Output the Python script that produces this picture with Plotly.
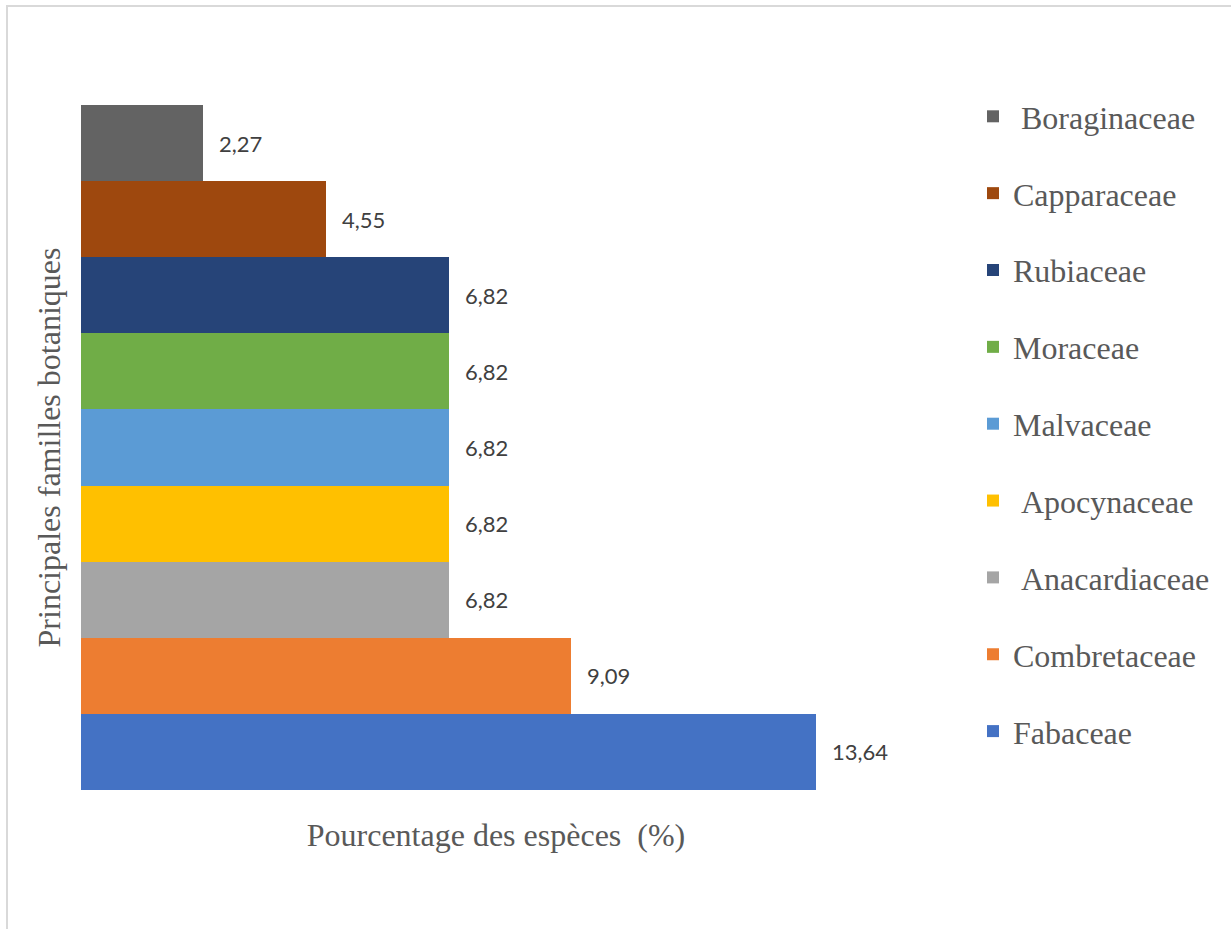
import plotly.graph_objects as go

families = ["Fabaceae", "Combretaceae", "Anacardiaceae", "Apocynaceae", "Malvaceae",
            "Moraceae", "Rubiaceae", "Capparaceae", "Boraginaceae"]
legend_names = ["Fabaceae", "Combretaceae", "\u00a0Anacardiaceae", "\u00a0Apocynaceae", "Malvaceae",
                "Moraceae", "Rubiaceae", "Capparaceae", "\u00a0Boraginaceae"]
values = [13.64, 9.09, 6.82, 6.82, 6.82, 6.82, 6.82, 4.55, 2.27]
labels = ["13,64", "9,09", "6,82", "6,82", "6,82", "6,82", "6,82", "4,55", "2,27"]
colors = ["#4472C4", "#ED7D31", "#A5A5A5", "#FFC000", "#5B9BD5",
          "#70AD47", "#264478", "#9E480E", "#636363"]

W, H = 1231, 929
L, R_px = 81, 911
T, B_px = 105, 790
pw, ph = R_px - L, B_px - T

fig = go.Figure()
# add traces top-down so the legend lists Boraginaceae first
for fam, name, v, c in reversed(list(zip(families, legend_names, values, colors))):
    fig.add_trace(go.Bar(x=[v], y=[fam], orientation="h", name=name,
                         marker=dict(color=c, line=dict(width=0)),
                         legendgroup=fam, hoverinfo="skip"))

annotations = []
for fam, v, lab in zip(families, values, labels):
    annotations.append(dict(x=v, y=fam, xref="x", yref="y", text=lab, showarrow=False,
                            xanchor="left", yanchor="middle", xshift=14,
                            font=dict(family="Lato", size=22, color="#404040")))

serif = "Liberation Serif"
fig.update_layout(
    width=W, height=H,
    margin=dict(l=L, r=W - R_px, t=T, b=H - B_px, pad=0),
    paper_bgcolor="white", plot_bgcolor="white",
    barmode="overlay", bargap=0,
    xaxis=dict(range=[0, 15.4], showgrid=False, zeroline=False, showline=False,
               showticklabels=False, ticks="",
               title=dict(text="Pourcentage des espèces  (%)", standoff=33,
                          font=dict(family=serif, size=32, color="#595959"))),
    yaxis=dict(categoryorder="array", categoryarray=families,
               showgrid=False, zeroline=False, showline=False,
               showticklabels=False, ticks="",
               title=dict(text="Principales familles botaniques", standoff=9,
                          font=dict(family=serif, size=32, color="#595959"))),
    legend=dict(x=(973 - L) / pw, xanchor="left", y=(B_px - 89) / ph, yanchor="top",
                traceorder="grouped", tracegroupgap=32.25, maxheight=900,
                font=dict(family=serif, size=32, color="#595959"),
                bgcolor="rgba(0,0,0,0)", itemclick=False, itemdoubleclick=False),
    showlegend=True,
    annotations=annotations,
    shapes=[dict(type="rect", xref="paper", yref="paper",
                 x0=(7 - L) / pw, x1=(1240 - L) / pw,
                 y0=(B_px - 940) / ph, y1=(B_px - 6) / ph,
                 line=dict(color="#D9D9D9", width=2), fillcolor="rgba(0,0,0,0)",
                 layer="below")],
)

fig.write_html("out.html")
